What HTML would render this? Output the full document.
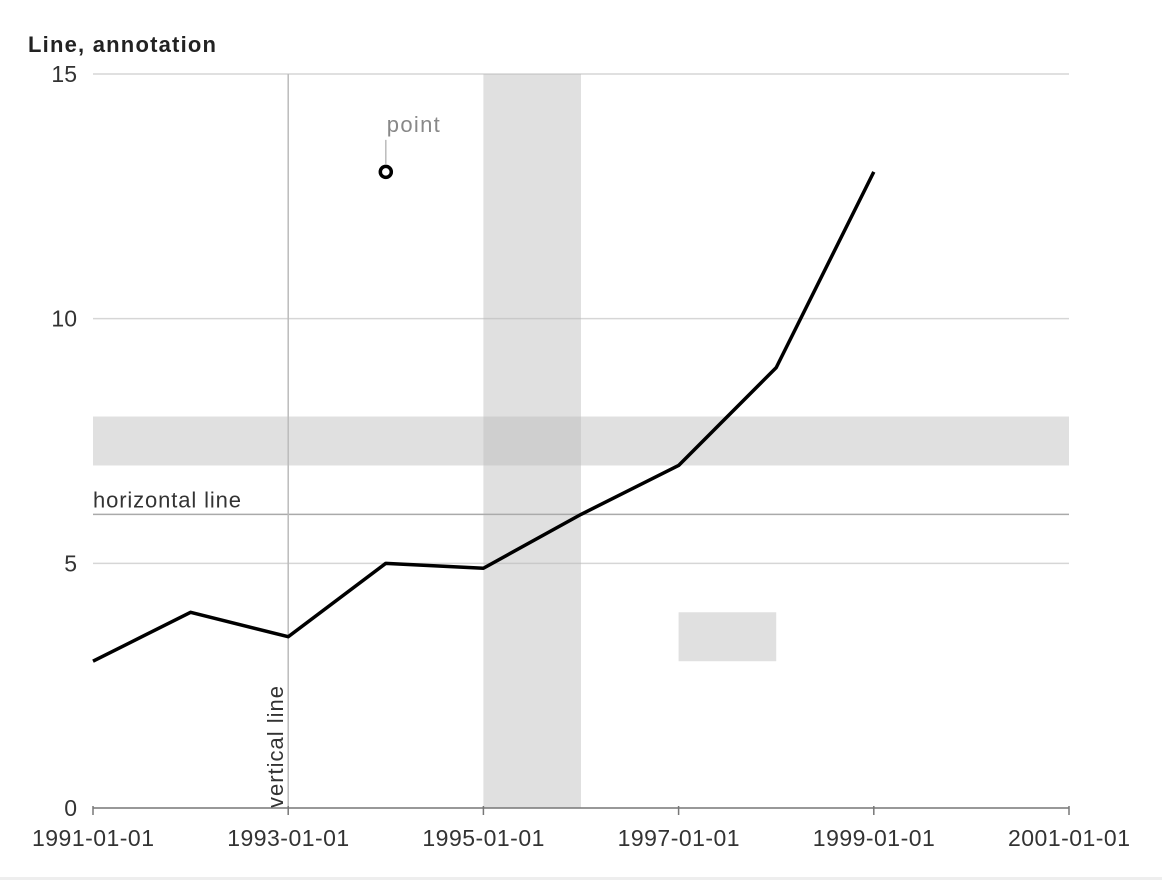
<!DOCTYPE html>
<html><head><meta charset="utf-8"><style>
html,body{margin:0;padding:0;background:#fff;}
svg{display:block;font-family:"Liberation Sans",sans-serif;}
</style></head><body>
<svg id="chart" width="1162" height="880" viewBox="0 0 1162 880">
<rect x="0" y="877" width="1162" height="3" fill="#eee"/>
<text x="28" y="52" font-size="22" font-weight="bold" fill="#222" textLength="188">Line, annotation</text>
<g id="g"></g>
</svg>
<script>
const years=[1991,1992,1993,1994,1995,1996,1997,1998,1999];
const values=[3,4,3.5,5,4.9,6,7,9,13];
const yTicks=[0,5,10,15];
const xTicks=[1991,1993,1995,1997,1999,2001];
const xTickLabels=["1991-01-01","1993-01-01","1995-01-01","1997-01-01","1999-01-01","2001-01-01"];
const pointAnn=[1994,13];
const vBand=[1995,1996];
const hBand=[7,8];
const rectAnn=[1997,1998,3,4];
const hLine=6, vLine=1993;
const X0=93,X1=1069,Y0=808,Y1=74;
const x=v=>X0+(v-1991)/(2001-1991)*(X1-X0);
const y=v=>Y0-v/15*(Y0-Y1);
const g=document.getElementById('g');
const NS='http://www.w3.org/2000/svg';
function mk(t,a,name,txt){const e=document.createElementNS(NS,t);for(const k in a)e.setAttribute(k,a[k]);


if(txt!==undefined)e.textContent=txt;g.appendChild(e);return e;}
yTicks.forEach(t=>{
 if(t>0)mk('line',{x1:X0,x2:X1,y1:y(t),y2:y(t),stroke:'#d6d6d6','stroke-width':1.5},'grid-line-'+t);
 mk('text',{x:77,y:y(t)+8,'font-size':23,fill:'#333','text-anchor':'end'},'y-tick-label-'+t,String(t));
});
mk('rect',{x:x(vBand[0]),y:Y1,width:x(vBand[1])-x(vBand[0]),height:Y0-Y1,fill:'#bbb','fill-opacity':0.45},'vertical-band');
mk('rect',{x:X0,y:y(hBand[1]),width:X1-X0,height:y(hBand[0])-y(hBand[1]),fill:'#bbb','fill-opacity':0.45},'horizontal-band');
mk('rect',{x:x(rectAnn[0]),y:y(rectAnn[3]),width:x(rectAnn[1])-x(rectAnn[0]),height:y(rectAnn[2])-y(rectAnn[3]),fill:'#bbb','fill-opacity':0.45},'rect-annotation');
mk('line',{x1:X0,x2:X1,y1:y(hLine),y2:y(hLine),stroke:'#aaa','stroke-width':1.5},'horizontal-line');
mk('text',{x:X0,y:y(hLine)-7,'font-size':22,fill:'#333',textLength:148},'horizontal-line-label','horizontal line');
mk('line',{x1:x(vLine),x2:x(vLine),y1:Y1,y2:Y0,stroke:'#bbb','stroke-width':1.5},'vertical-line');
mk('text',{x:0,y:0,'font-size':22,fill:'#333',textLength:122,transform:`translate(${x(vLine)-5},${Y0}) rotate(-90)`},'vertical-line-label','vertical line');
mk('line',{x1:X0,x2:X1,y1:Y0,y2:Y0,stroke:'#777','stroke-width':1.5},'x-axis-line');
xTicks.forEach((t,i)=>{
 mk('line',{x1:x(t),x2:x(t),y1:Y0-2,y2:Y0+7,stroke:'#777','stroke-width':1.5},'x-tick-'+t);
 mk('text',{x:x(t),y:Y0+38,'font-size':23,fill:'#333','text-anchor':'middle',textLength:122},'x-tick-label-'+t,xTickLabels[i]);
});
mk('polyline',{points:years.map((d,i)=>x(d)+','+y(values[i])).join(' '),fill:'none',stroke:'#000','stroke-width':3.5,'stroke-linejoin':'round'},'series-line');
const px=x(pointAnn[0]),py=y(pointAnn[1]);
mk('line',{x1:px,x2:px,y1:py-8,y2:py-32,stroke:'#bbb','stroke-width':1.5},'point-leader');
mk('text',{x:px+1,y:py-40,'font-size':22,fill:'#888',textLength:53},'point-label','point');
mk('circle',{cx:px,cy:py,r:5.5,fill:'#fff',stroke:'#000','stroke-width':3.5},'point-annotation');
</script>
</body></html>
